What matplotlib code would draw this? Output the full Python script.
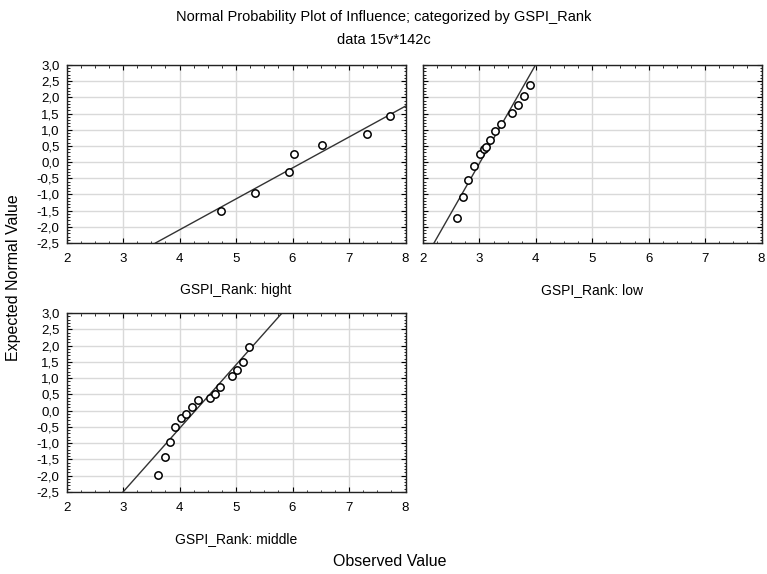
import matplotlib
matplotlib.use("Agg")
import matplotlib.pyplot as plt
from matplotlib.ticker import MultipleLocator, FuncFormatter

plt.rcParams['font.family'] = ['Liberation Sans', 'DejaVu Sans']

# Data
hight_x = [4.73, 5.33, 5.93, 6.02, 6.52, 7.32, 7.73]
hight_y = [-1.51, -0.95, -0.32, 0.24, 0.53, 0.88, 1.43]
hight_line_x = [3.575, 8.0]
hight_line_y = [-2.5, 1.73]

low_x = [2.60, 2.71, 2.80, 2.90, 3.01, 3.08, 3.12, 3.19, 3.28, 3.38, 3.58, 3.68, 3.79, 3.89]
low_y = [-1.74, -1.08, -0.55, -0.12, 0.24, 0.40, 0.47, 0.67, 0.95, 1.19, 1.51, 1.76, 2.03, 2.38]
low_line_x = [2.195, 3.994]
low_line_y = [-2.5, 3.0]

mid_x = [3.62, 3.74, 3.83, 3.92, 4.03, 4.12, 4.22, 4.33, 4.54, 4.62, 4.72, 4.93, 5.02, 5.13, 5.23]
mid_y = [-1.98, -1.43, -0.96, -0.51, -0.24, -0.09, 0.12, 0.32, 0.39, 0.52, 0.74, 1.06, 1.24, 1.50, 1.94]
mid_line_x = [3.0, 5.80]
mid_line_y = [-2.5, 2.97]

panel_labels = ["GSPI_Rank: hight", "GSPI_Rank: low", "GSPI_Rank: middle"]
title_lines = ["Normal Probability Plot of Influence; categorized by GSPI_Rank", "data 15v*142c"]

fig = plt.figure(figsize=(7.67, 5.74), dpi=100)
W, H = 767, 574

def ax_at(l, t, r, b):
    return fig.add_axes([l / W, 1 - b / H, (r - l) / W, (b - t) / H])

axes = [ax_at(66.5, 65, 405.5, 243), ax_at(423, 65, 761.5, 243), ax_at(66.5, 313, 405.5, 492)]
data = [(hight_x, hight_y, hight_line_x, hight_line_y),
        (low_x, low_y, low_line_x, low_line_y),
        (mid_x, mid_y, mid_line_x, mid_line_y)]
show_ylabels = [True, False, True]

fmt = FuncFormatter(lambda v, p: f"{v:.1f}".replace('.', ','))

for ax, (xs, ys, lx, ly), lab, sy in zip(axes, data, panel_labels, show_ylabels):
    ax.set_xlim(2, 8)
    ax.set_ylim(-2.5, 3.0)
    ax.xaxis.set_major_locator(MultipleLocator(1))
    ax.xaxis.set_minor_locator(MultipleLocator(0.25))
    ax.yaxis.set_major_locator(MultipleLocator(0.5))
    ax.yaxis.set_minor_locator(MultipleLocator(0.1))
    ax.yaxis.set_major_formatter(fmt)
    ax.grid(True, which='major', color='#d9d9d9', linewidth=1.0)
    ax.set_axisbelow(True)
    ax.tick_params(which='both', direction='in', top=True, right=True, labelsize=9.5, colors='black')
    ax.tick_params(which='major', length=3.5, width=0.8)
    ax.tick_params(axis='x', which='major', pad=7)
    ax.tick_params(axis='y', which='major', pad=5)
    ax.tick_params(which='minor', length=1.8, width=0.6)
    if not sy:
        ax.tick_params(axis='y', labelleft=False)
    for s in ax.spines.values():
        s.set_linewidth(1.0)
        s.set_color('#222222')
    ax.plot(lx, ly, color='#333333', linewidth=1.0, clip_on=True, zorder=2)
    ax.scatter(xs, ys, s=28, facecolors='white', edgecolors='black', linewidths=1.1, zorder=3)
    ax.set_xlabel(lab, fontsize=10, labelpad=13)

fig.text(0.5, 1 - 17 / H, title_lines[0], ha='center', va='center', fontsize=10.5)
fig.text(0.5, 1 - 40 / H, title_lines[1], ha='center', va='center', fontsize=10.5)
fig.text(390 / W, 1 - 562 / H, "Observed Value", ha='center', va='center', fontsize=11.5)
fig.text(14 / W, 1 - 278 / H, "Expected Normal Value", ha='center', va='center', rotation=90, fontsize=11.5)

fig.savefig("out.png", dpi=100)
